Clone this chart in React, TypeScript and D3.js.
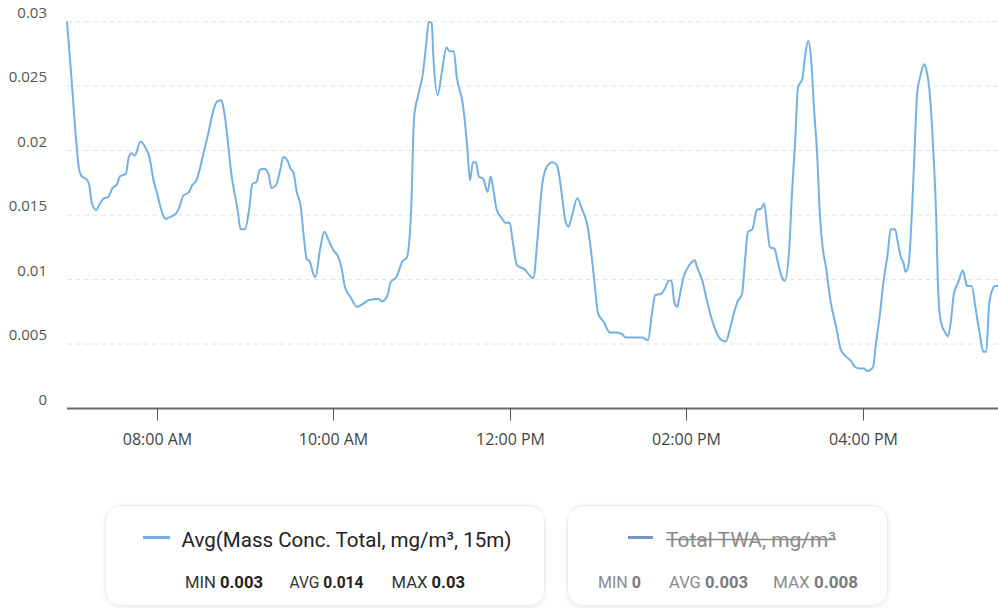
import React from "react";
import * as d3 from "d3";

const times = [
  "06:59","07:02","07:05","07:07","07:09","07:12","07:14","07:16","07:19","07:21","07:24","07:27","07:30","07:33","07:35","07:39","07:41","07:43","07:45","07:49","07:52","07:55","07:58",
  "08:00","08:04","08:06","08:08","08:13","08:15","08:18","08:22","08:24","08:27","08:32","08:35","08:39","08:41","08:44","08:46","08:51","08:55","08:57",
  "09:00","09:03","09:05","09:08","09:10","09:13","09:16","09:18","09:21","09:24","09:26","09:29","09:31","09:33","09:35","09:38","09:40","09:42","09:44","09:47","09:48","09:51","09:54","09:57",
  "10:00","10:04","10:06","10:08","10:12","10:16","10:20","10:24","10:31","10:33","10:37","10:39","10:43","10:47","10:50","10:53","10:55","10:58",
  "11:01","11:03","11:05","11:07","11:08","11:11","11:14","11:17","11:19","11:22","11:24","11:28","11:31","11:33","11:35","11:37","11:39","11:42","11:45","11:47","11:49","11:51","11:55","11:57",
  "12:00","12:02","12:05","12:10","12:13","12:16","12:19","12:22","12:25","12:29","12:32","12:33","12:36","12:38","12:40","12:42","12:46","12:49","12:53","12:55","12:58",
  "13:00","13:04","13:08","13:12","13:16","13:19","13:25","13:30","13:34","13:37","13:39","13:43","13:46","13:48","13:50","13:52","13:54","13:55","13:58",
  "14:02","14:06","14:07","14:11","14:14","14:18","14:21","14:24","14:27","14:30","14:32","14:35","14:38","14:40","14:42","14:45","14:48","14:51","14:53","14:55","14:57",
  "15:00","15:02","15:05","15:07","15:10","15:12","15:14","15:16","15:19","15:21","15:23","15:25","15:27","15:29","15:31","15:33","15:35","15:38","15:42","15:45","15:48","15:52","15:55","15:58",
  "16:01","16:03","16:07","16:09","16:12","16:14","16:17","16:19","16:22","16:24","16:26","16:28","16:29","16:31","16:33","16:35","16:37","16:39","16:42","16:43","16:46","16:48","16:50","16:51","16:53","16:56","16:58",
  "17:00","17:02","17:05","17:08","17:10","17:11","17:14","17:17","17:20","17:22","17:24","17:26","17:29","17:30","17:32",
];

const massConc = [
  0.0300,0.0257,0.0211,0.0187,0.0180,0.0178,0.0174,0.0159,0.0154,0.0158,0.0163,0.0164,0.0171,0.0174,0.0180,0.0182,0.0195,0.0198,0.0196,0.0207,0.0203,0.0195,0.0176,
  0.0168,0.0151,0.0147,0.0148,0.0151,0.0155,0.0165,0.0168,0.0173,0.0177,0.0199,0.0213,0.0233,0.0238,0.0239,0.0229,0.0180,0.0154,0.0139,
  0.0139,0.0156,0.0174,0.0176,0.0185,0.0186,0.0182,0.0171,0.0173,0.0185,0.0195,0.0192,0.0186,0.0183,0.0169,0.0156,0.0133,0.0116,0.0114,0.0103,0.0102,0.0123,0.0137,0.0130,
  0.0123,0.0116,0.0107,0.0094,0.0086,0.0079,0.0081,0.0084,0.0085,0.0083,0.0088,0.0098,0.0102,0.0114,0.0117,0.0154,0.0226,0.0244,
  0.0260,0.0280,0.0300,0.0299,0.0275,0.0243,0.0262,0.0280,0.0277,0.0277,0.0257,0.0237,0.0205,0.0177,0.0191,0.0191,0.0180,0.0178,0.0168,0.0180,0.0169,0.0155,0.0147,0.0144,
  0.0144,0.0130,0.0111,0.0108,0.0104,0.0101,0.0133,0.0173,0.0187,0.0191,0.0189,0.0185,0.0161,0.0145,0.0141,0.0148,0.0163,0.0155,0.0141,0.0125,0.0094,
  0.0074,0.0067,0.0059,0.0059,0.0058,0.0055,0.0055,0.0055,0.0053,0.0076,0.0088,0.0089,0.0094,0.0099,0.0099,0.0082,0.0079,0.0084,0.0101,
  0.0111,0.0115,0.0111,0.0099,0.0084,0.0067,0.0058,0.0053,0.0052,0.0063,0.0072,0.0083,0.0089,0.0115,0.0137,0.0139,0.0154,0.0155,0.0159,0.0141,0.0125,
  0.0124,0.0115,0.0102,0.0099,0.0123,0.0169,0.0205,0.0249,0.0256,0.0275,0.0285,0.0270,0.0231,0.0198,0.0148,0.0123,0.0110,0.0084,0.0063,0.0046,0.0041,0.0037,0.0032,0.0031,
  0.0031,0.0029,0.0032,0.0050,0.0076,0.0097,0.0120,0.0139,0.0139,0.0128,0.0117,0.0112,0.0106,0.0110,0.0141,0.0192,0.0244,0.0257,0.0267,0.0264,0.0239,0.0200,0.0148,0.0102,0.0068,0.0059,0.0056,
  0.0068,0.0089,0.0098,0.0107,0.0099,0.0095,0.0095,0.0076,0.0055,0.0044,0.0044,0.0081,0.0094,0.0095,0.0095,
];

const yTicks = [0, 0.005, 0.01, 0.015, 0.02, 0.025, 0.03];
const xTickTimes = ["08:00", "10:00", "12:00", "14:00", "16:00"];

const series1Name = "Avg(Mass Conc. Total, mg/m³, 15m)";
const series1Stats = [["MIN", "0.003"], ["AVG", "0.014"], ["MAX", "0.03"]];
const series2Name = "Total TWA, mg/m³";
const series2Stats = [["MIN", "0"], ["AVG", "0.003"], ["MAX", "0.008"]];

const W = 998;
const H = 608;
const plotLeft = 67;
const plotRight = 998;
const plotTop = 21.7;
const plotBottom = 408.5;

const parse = d3.timeParse("%H:%M");

export default function App() {
  const data = times.map((t, i) => ({ t: parse(t) as Date, v: massConc[i] }));
  const x = d3
    .scaleTime()
    .domain(d3.extent(data, (d) => d.t) as [Date, Date])
    .range([plotLeft, plotRight]);
  const y = d3.scaleLinear().domain([0, 0.03]).range([plotBottom, plotTop]);
  const line = d3
    .line<{ t: Date; v: number }>()
    .x((d) => x(d.t))
    .y((d) => y(d.v))
    .curve(d3.curveMonotoneX);
  const fmtX = d3.timeFormat("%I:%M %p");
  const fmtY = (v: number) => (v === 0 ? "0" : d3.format("~g")(v));

  const axisFont = "'Open Sans', 'Segoe UI', sans-serif";
  const legFont = "'Liberation Sans Narrow', Roboto, sans-serif";

  const statXs1 = [185, 289.5, 391.5];
  const statW1 = [78, 74, 73.5];
  const statXs2 = [598, 669, 773];
  const statW2 = [43, 79, 85];

  return (
    <svg
      width={W}
      height={H}
      style={{ position: "absolute", left: 0, top: 0, background: "#fff" }}
    >
      <defs>
        <filter id="sh" x="-10%" y="-20%" width="120%" height="150%">
          <feDropShadow dx="0" dy="1.5" stdDeviation="2.5" floodColor="#000" floodOpacity="0.08" />
        </filter>
      </defs>
      {/* grid */}
      {yTicks
        .filter((v) => v > 0)
        .map((v) => (
          <line
            key={"g" + v}
            x1={plotLeft}
            x2={plotRight}
            y1={y(v)}
            y2={y(v)}
            stroke="#e3e3e3"
            strokeWidth={1}
            strokeDasharray="5,3.5"
          />
        ))}
      {/* y labels */}
      {yTicks.map((v) => (
        <text
          key={"y" + v}
          x={47}
          y={y(v) - 4}
          textAnchor="end"
          fontFamily={axisFont}
          fontSize={15}
          fill="#555"
        >
          {fmtY(v)}
        </text>
      ))}
      {/* x axis */}
      <line x1={plotLeft} x2={plotRight} y1={plotBottom} y2={plotBottom} stroke="#6b6b6b" strokeWidth={2} />
      {xTickTimes.map((s) => {
        const d = parse(s) as Date;
        const px = Math.round(x(d)) + 0.5;
        return (
          <g key={s}>
            <line x1={px} x2={px} y1={plotBottom} y2={plotBottom + 12} stroke="#555" strokeWidth={1} />
            <text
              x={px}
              y={445}
              textAnchor="middle"
              fontFamily={axisFont}
              fontSize={16}
              fill="#444"
            >
              {fmtX(d)}
            </text>
          </g>
        );
      })}
      {/* line */}
      <path d={line(data) || ""} fill="none" stroke="#74b1e2" strokeWidth={2} strokeLinejoin="round" />

      {/* legend 1 */}
      <rect x={105.5} y={505.5} width={439} height={100} rx={15} fill="#fff" stroke="#ececec" filter="url(#sh)" />
      <line x1={143} x2={170} y1={537.5} y2={537.5} stroke="#74b1e2" strokeWidth={3} />
      <text
        x={181.5}
        y={546.7}
        fontFamily={legFont}
        fontSize={21}
        fill="#222"
        textLength={330}
        lengthAdjust="spacingAndGlyphs"
      >
        {series1Name}
      </text>
      {series1Stats.map(([k, v], i) => (
        <text
          key={k}
          x={statXs1[i]}
          y={588}
          fontFamily={legFont}
          fontSize={16.5}
          fill="#333"
          textLength={statW1[i]}
          lengthAdjust="spacingAndGlyphs"
        >
          <tspan>{k} </tspan>
          <tspan fontWeight="bold" fill="#1f1f1f">{v}</tspan>
        </text>
      ))}

      {/* legend 2 */}
      <rect x={567.5} y={505.5} width={320} height={100} rx={15} fill="#fff" stroke="#ececec" filter="url(#sh)" />
      <line x1={628} x2={653} y1={537.5} y2={537.5} stroke="#7d94c8" strokeWidth={3} />
      <text
        x={666}
        y={546.7}
        fontFamily={legFont}
        fontSize={21}
        fill="#8a8a8a"
        textLength={170}
        lengthAdjust="spacingAndGlyphs"
      >
        {series2Name}
      </text>
      <line x1={666} x2={836} y1={539.5} y2={539.5} stroke="#8a8a8a" strokeWidth={1.3} />
      {series2Stats.map(([k, v], i) => (
        <text
          key={k}
          x={statXs2[i]}
          y={588}
          fontFamily={legFont}
          fontSize={16.5}
          fill="#8a8a8a"
          textLength={statW2[i]}
          lengthAdjust="spacingAndGlyphs"
        >
          <tspan>{k} </tspan>
          <tspan fontWeight="bold" fill="#7a7a7a">{v}</tspan>
        </text>
      ))}
    </svg>
  );
}
